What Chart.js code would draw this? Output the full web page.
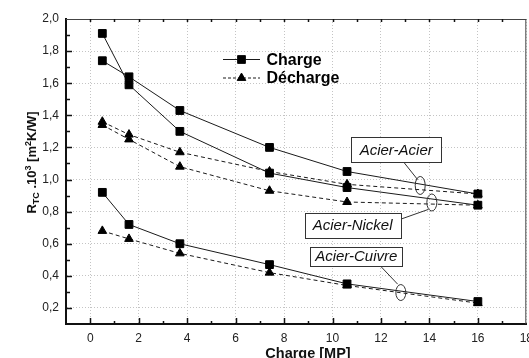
<!DOCTYPE html>
<html>
<head>
<meta charset="utf-8">
<script src="https://cdn.jsdelivr.net/npm/chart.js"></script>
<style>
  html, body { margin: 0; padding: 0; background: #fff; overflow: hidden; }
  #wrap { width: 529px; height: 358px; overflow: hidden; }
</style>
</head>
<body>
<div id="wrap"><canvas id="myChart" width="540" height="358"></canvas></div>
<script>
// pressure points [MP]
const charges = [0.5, 1.6, 3.7, 7.4, 10.6, 16];

// contact resistance R_TC x 10^3 [m2K/W]
const acierAcierCharge    = [1.74, 1.64, 1.43, 1.20, 1.05, 0.91];
const acierAcierDecharge  = [1.36, 1.28, 1.17, 1.05, 0.97, 0.91];
const acierNickelCharge   = [1.91, 1.59, 1.30, 1.04, 0.95, 0.84];
const acierNickelDecharge = [1.34, 1.25, 1.08, 0.93, 0.86, 0.84];
const acierCuivreCharge   = [0.92, 0.72, 0.60, 0.47, 0.35, 0.24];
const acierCuivreDecharge = [0.68, 0.63, 0.54, 0.42, 0.34, 0.23];

const xTicks = [0, 2, 4, 6, 8, 10, 12, 14, 16, 18];
const yTicks = [0.2, 0.4, 0.6, 0.8, 1.0, 1.2, 1.4, 1.6, 1.8, 2.0];

const FONT = '"Liberation Sans", Arial, sans-serif';

// pair labels: box centre, leader line and ellipse, all in data units
const pairLabels = [
  { text: 'Acier-Acier',  bx: 12.63, by: 1.188, w: 90, h: 25, lx1: 12.93, ly1: 1.110, lx2: 13.51, ly2: 1.000, ex: 13.62, ey: 0.963, rx: 5, ry: 9 },
  { text: 'Acier-Nickel', bx: 10.83, by: 0.716, w: 96, h: 25, lx1: 12.80, ly1: 0.752, lx2: 13.96, ly2: 0.814, ex: 14.10, ey: 0.857, rx: 5, ry: 8.5 },
  { text: 'Acier-Cuivre', bx: 10.98, by: 0.522, w: 92, h: 19, lx1: 11.98, ly1: 0.461, lx2: 12.69, ly2: 0.348, ex: 12.82, ey: 0.296, rx: 5, ry: 8 }
];

function points(values) {
  return charges.map((c, i) => ({ x: c, y: values[i] }));
}

function chargeSet(values) {
  return {
    data: points(values),
    borderColor: '#1a1a1a',
    borderWidth: 1,
    pointStyle: 'rect',
    pointRadius: 5.5,
    pointBackgroundColor: '#000',
    pointBorderColor: '#000',
    pointBorderWidth: 1,
    tension: 0
  };
}

function dechargeSet(values) {
  return {
    data: points(values),
    borderColor: '#1a1a1a',
    borderWidth: 1,
    borderDash: [4, 3],
    pointStyle: 'triangle',
    pointRadius: 5,
    pointBackgroundColor: '#000',
    pointBorderColor: '#000',
    pointBorderWidth: 1,
    tension: 0
  };
}

// frame, inner ticks, legend, axis titles and pair labels
const decorations = {
  id: 'decorations',
  afterDraw(chart) {
    const ctx = chart.ctx;
    const a = chart.chartArea;
    const xs = chart.scales.x;
    const ys = chart.scales.y;
    ctx.save();

    // top and right frame
    ctx.strokeStyle = '#444';
    ctx.lineWidth = 1;
    ctx.beginPath();
    ctx.moveTo(a.left, a.top + 0.5);
    ctx.lineTo(a.right, a.top + 0.5);
    ctx.moveTo(a.right - 0.5, a.top);
    ctx.lineTo(a.right - 0.5, a.bottom);
    ctx.stroke();

    // ticks pointing into the plot
    ctx.strokeStyle = '#111';
    ctx.lineWidth = 1.5;
    ctx.beginPath();
    for (let v = 0; v <= 17; v++) {
      const px = Math.round(xs.getPixelForValue(v)) + 0.5;
      const len = v % 2 === 0 ? 6 : 3;
      ctx.moveTo(px, a.bottom);
      ctx.lineTo(px, a.bottom - len);
      ctx.moveTo(px, a.top);
      ctx.lineTo(px, a.top + 3);
    }
    for (let k = 2; k < 20; k++) {
      const py = Math.round(ys.getPixelForValue(k / 10)) + 0.5;
      const len = k % 2 === 0 ? 6 : 4;
      ctx.moveTo(a.left, py);
      ctx.lineTo(a.left + len, py);
    }
    ctx.stroke();

    // legend
    const lx = a.left + 157, lw = 37;
    const rows = [
      { text: 'Charge', y: a.top + 40.5, dash: [], style: 'rect', r: 5.5 },
      { text: 'Décharge', y: a.top + 59, dash: [3, 2], style: 'triangle', r: 5 }
    ];
    rows.forEach(row => {
      ctx.strokeStyle = '#1a1a1a';
      ctx.lineWidth = 1;
      ctx.setLineDash(row.dash);
      ctx.beginPath();
      ctx.moveTo(lx, row.y);
      ctx.lineTo(lx + lw, row.y);
      ctx.stroke();
      ctx.setLineDash([]);
      ctx.fillStyle = '#000';
      Chart.helpers.drawPoint(ctx, { pointStyle: row.style, radius: row.r, borderWidth: 1 }, lx + lw / 2, row.y);
      ctx.fill();
      ctx.font = 'bold 16px ' + FONT;
      ctx.textBaseline = 'middle';
      ctx.textAlign = 'left';
      ctx.fillText(row.text, lx + lw + 6.5, row.y + 1);
    });

    // pair labels
    pairLabels.forEach(p => {
      const cx = xs.getPixelForValue(p.bx);
      const cy = ys.getPixelForValue(p.by);
      ctx.strokeStyle = '#333';
      ctx.lineWidth = 1;
      ctx.beginPath();
      ctx.moveTo(xs.getPixelForValue(p.lx1), ys.getPixelForValue(p.ly1));
      ctx.lineTo(xs.getPixelForValue(p.lx2), ys.getPixelForValue(p.ly2));
      ctx.stroke();
      ctx.beginPath();
      ctx.ellipse(xs.getPixelForValue(p.ex), ys.getPixelForValue(p.ey), p.rx, p.ry, 0, 0, Math.PI * 2);
      ctx.stroke();
      const bx = Math.round(cx - p.w / 2) + 0.5;
      const by = Math.round(cy - p.h / 2) + 0.5;
      ctx.fillStyle = '#fff';
      ctx.fillRect(bx, by, p.w, p.h);
      ctx.strokeRect(bx, by, p.w, p.h);
      ctx.fillStyle = '#111';
      ctx.font = 'italic 15px ' + FONT;
      ctx.textAlign = 'center';
      ctx.textBaseline = 'middle';
      ctx.fillText(p.text, cx, cy + 1);
    });

    // x axis title
    ctx.fillStyle = '#111';
    ctx.font = 'bold 14.5px ' + FONT;
    ctx.textAlign = 'center';
    ctx.textBaseline = 'alphabetic';
    ctx.fillText('Charge [MP]', 308, 357.5);

    // y axis title with sub/superscripts
    const parts = [
      { t: 'R', f: 'bold 13px ', dy: 0 },
      { t: 'TC', f: 'bold 9px ', dy: 3 },
      { t: ' .10', f: 'bold 13px ', dy: 0 },
      { t: '3', f: 'bold 9px ', dy: -5 },
      { t: ' [m', f: 'bold 13px ', dy: 0 },
      { t: '2', f: 'bold 9px ', dy: -5 },
      { t: 'K/W]', f: 'bold 13px ', dy: 0 }
    ];
    let total = 0;
    parts.forEach(p => { ctx.font = p.f + FONT; p.w = ctx.measureText(p.t).width; total += p.w; });
    ctx.translate(36, 162.5);
    ctx.rotate(-Math.PI / 2);
    ctx.textAlign = 'left';
    let x = -total / 2;
    parts.forEach(p => {
      ctx.font = p.f + FONT;
      ctx.fillText(p.t, x, p.dy);
      x += p.w;
    });

    ctx.restore();
  }
};

new Chart('myChart', {
  type: 'line',
  data: {
    datasets: [
      chargeSet(acierAcierCharge),
      dechargeSet(acierAcierDecharge),
      chargeSet(acierNickelCharge),
      dechargeSet(acierNickelDecharge),
      chargeSet(acierCuivreCharge),
      dechargeSet(acierCuivreDecharge)
    ]
  },
  options: {
    responsive: false,
    animation: false,
    layout: { padding: { top: 19, right: 12, left: 0, bottom: 0 } },
    plugins: { legend: { display: false }, tooltip: { enabled: false } },
    scales: {
      x: {
        type: 'linear',
        min: -1,
        max: 18,
        afterBuildTicks: s => { s.ticks = xTicks.map(v => ({ value: v })); },
        afterFit: s => { s.height = 34; },
        grid: { color: '#c4c4c4', lineWidth: 1, drawTicks: false },
        border: { display: true, width: 2, color: '#111', dash: [1, 2] },
        ticks: {
          padding: 7,
          color: '#222',
          font: { family: FONT, size: 12 },
          maxRotation: 0,
          callback: v => String(v)
        }
      },
      y: {
        type: 'linear',
        min: 0.1,
        max: 2.0,
        afterBuildTicks: s => { s.ticks = yTicks.map(v => ({ value: v })); },
        afterFit: s => { s.width = 66; },
        grid: { color: '#c4c4c4', lineWidth: 1, drawTicks: false },
        border: { display: true, width: 2, color: '#111', dash: [1, 2] },
        ticks: {
          padding: 7,
          color: '#222',
          font: { family: FONT, size: 12 },
          callback: v => v.toFixed(1).replace('.', ',')
        }
      }
    }
  },
  plugins: [decorations]
});
</script>
</body>
</html>
